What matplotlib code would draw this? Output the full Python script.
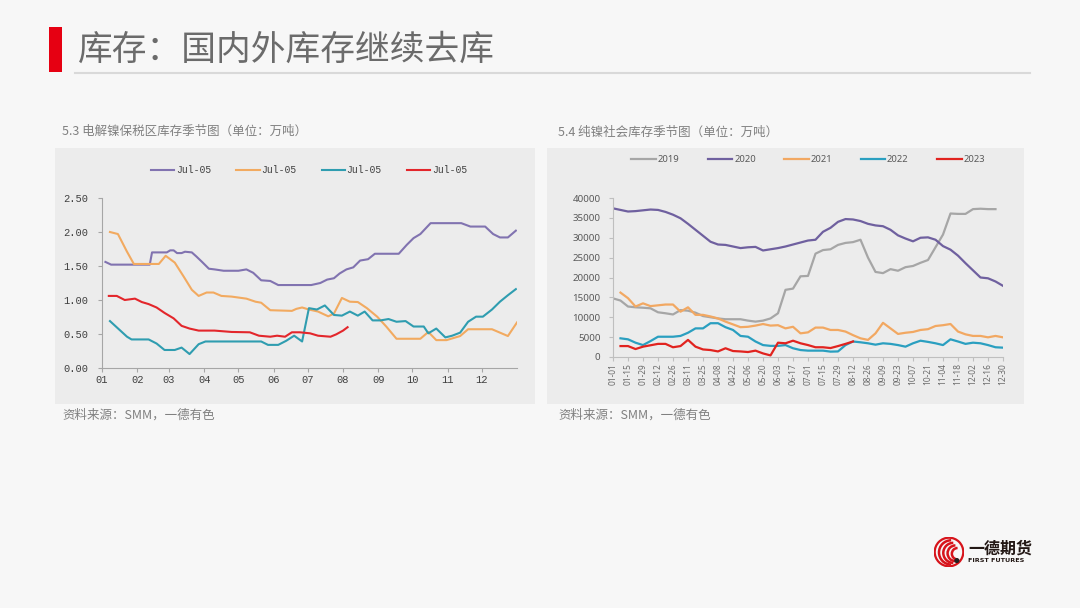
import numpy as np
import matplotlib
matplotlib.use('Agg')
import matplotlib.pyplot as plt
from matplotlib.patches import Rectangle, Circle, Arc
from matplotlib.lines import Line2D

plt.rcParams['font.family'] = ['Noto Sans CJK SC', 'DejaVu Sans']

# ---------------- data: left chart (day of year, 万吨) ----------------
left_month_days = [0, 31, 59, 90, 120, 151, 181, 212, 243, 273, 304, 334]
left_month_labels = ['01', '02', '03', '04', '05', '06', '07', '08', '09', '10', '11', '12']
left_legend = ['Jul-05', 'Jul-05', 'Jul-05', 'Jul-05']

purple_d = [3, 8, 42, 44, 57, 60, 63, 66, 70, 73, 79, 83, 88, 94, 99, 107, 120, 127, 133, 140,
            148, 155, 184, 192, 198, 204, 209, 215, 221, 227, 234, 240, 261, 268, 274, 280, 289, 316, 324, 337,
            344, 350, 357, 364]
purple_v = [1.56, 1.52, 1.52, 1.70, 1.70, 1.73, 1.73, 1.69, 1.69, 1.71, 1.70, 1.64, 1.56, 1.46, 1.45, 1.43, 1.43, 1.45, 1.40, 1.29,
            1.28, 1.22, 1.22, 1.25, 1.30, 1.32, 1.39, 1.45, 1.48, 1.58, 1.60, 1.68, 1.68, 1.81, 1.91, 1.97, 2.13, 2.13, 2.08, 2.08,
            1.97, 1.92, 1.92, 2.02]

orange_d = [7, 14, 22, 28, 50, 56, 64, 72, 79, 85, 92, 98, 105, 114, 127, 135, 140, 148, 167, 171,
            176, 182, 190, 199, 204, 211, 218, 225, 233, 242, 250, 259, 280, 287, 294, 303, 315, 322, 343, 357, 365]
orange_v = [2.00, 1.97, 1.71, 1.53, 1.53, 1.65, 1.55, 1.34, 1.15, 1.06, 1.11, 1.11, 1.06, 1.05, 1.02, 0.975, 0.96, 0.85, 0.84, 0.87,
            0.89, 0.86, 0.83, 0.76, 0.80, 1.03, 0.975, 0.97, 0.88, 0.755, 0.61, 0.43, 0.43, 0.53, 0.41, 0.41, 0.47, 0.57, 0.57, 0.47, 0.67]

teal_d = [7, 22, 26, 41, 48, 55, 64, 70, 77, 85, 91, 140, 146, 155, 162, 169, 176, 182, 189, 196,
          204, 211, 218, 225, 231, 238, 245, 252, 259, 267, 274, 283, 287, 294, 302, 308, 315, 322, 329, 335,
          343, 350, 357, 364]
teal_v = [0.69, 0.46, 0.42, 0.42, 0.36, 0.265, 0.265, 0.30, 0.205, 0.35, 0.39, 0.39, 0.34, 0.34, 0.40, 0.475, 0.39, 0.88, 0.86, 0.92,
          0.78, 0.77, 0.83, 0.77, 0.83, 0.70, 0.70, 0.72, 0.68, 0.69, 0.61, 0.61, 0.51, 0.58, 0.45, 0.475, 0.52, 0.68, 0.755, 0.755,
          0.86, 0.975, 1.07, 1.16]

red_d = [6, 13, 20, 29, 35, 41, 48, 55, 63, 70, 77, 85, 99, 114, 130, 138, 148, 154, 161, 167,
         174, 183, 190, 201, 206, 212, 216]
red_v = [1.06, 1.06, 1.00, 1.02, 0.97, 0.94, 0.89, 0.81, 0.73, 0.62, 0.58, 0.55, 0.55, 0.53, 0.525, 0.475, 0.46, 0.475, 0.46, 0.525,
         0.525, 0.51, 0.475, 0.46, 0.495, 0.55, 0.60]

# ---------------- data: right chart (weekly, 吨) ----------------
weeks = ['01-01', '01-08', '01-15', '01-22', '01-29', '02-05', '02-12', '02-19', '02-26', '03-04',
         '03-11', '03-18', '03-25', '04-01', '04-08', '04-15', '04-22', '04-29', '05-06', '05-13',
         '05-20', '05-27', '06-03', '06-10', '06-17', '06-24', '07-01', '07-08', '07-15', '07-22',
         '07-29', '08-05', '08-12', '08-19', '08-26', '09-02', '09-09', '09-16', '09-23', '09-30',
         '10-07', '10-14', '10-21', '10-28', '11-04', '11-11', '11-18', '11-25', '12-02', '12-09',
         '12-16', '12-23', '12-30']
nan = np.nan
y2019 = [14750, 14200, 12700, 12500, 12400, 12250, 11250, 11000, 10700, 11800,
         11650, 11150, 10300, 10000, 9700, 9500, 9500, 9500, 9150, 8900,
         9150, 9700, 11000, 16900, 17200, 20300, 20400, 26000, 26900, 27100,
         28200, 28700, 28900, 29500, 25000, 21400, 21100, 22100, 21700, 22600,
         22900, 23700, 24400, 27600, 30800, 36100, 36000, 36000, 37200, 37300,
         37200, 37200, nan]
y2020 = [37400, 37000, 36600, 36700, 36900, 37100, 37000, 36500, 35800, 34900,
         33500, 32000, 30500, 29000, 28300, 28200, 27800, 27400, 27600, 27700,
         26800, 27100, 27400, 27800, 28300, 28800, 29300, 29500, 31500, 32500,
         34000, 34700, 34600, 34200, 33500, 33100, 32900, 32000, 30600, 29800,
         29100, 30000, 30100, 29500, 27900, 27000, 25500, 23600, 21800, 20000,
         19800, 19000, 17900]
y2021 = [nan, 16200, 14800, 12700, 13500, 12800, 13000, 13200, 13200, 11400,
         12500, 10600, 10600, 10200, 9700, 8900, 8200, 7500, 7600, 7900,
         8300, 7900, 8000, 7200, 7600, 5950, 6200, 7400, 7400, 6800,
         6800, 6400, 5500, 4700, 4300, 5950, 8600, 7200, 5800, 6100,
         6300, 6800, 7000, 7800, 8000, 8300, 6400, 5700, 5300, 5300,
         4950, 5300, 4950]
y2022 = [nan, 4700, 4450, 3600, 3000, 4000, 5100, 5100, 5100, 5300,
         6100, 7200, 7200, 8500, 8500, 7500, 6800, 5300, 5100, 3900,
         3000, 2800, 2800, 3000, 2200, 1750, 1600, 1600, 1600, 1350,
         1400, 3000, 3900, 3700, 3450, 3100, 3450, 3300, 3000, 2600,
         3450, 4100, 3800, 3450, 3000, 4450, 3900, 3300, 3600, 3450,
         3000, 2450, 2350]
y2023 = [nan, 2750, 2750, 2000, 2600, 2950, 3300, 3300, 2450, 2750,
         4300, 2600, 1900, 1750, 1400, 2200, 1500, 1400, 1250, 1600,
         900, 400, 3600, 3450, 4100, 3450, 3000, 2450, 2450, 2250,
         2750, 3300, 3900, nan, nan, nan, nan, nan, nan, nan,
         nan, nan, nan, nan, nan, nan, nan, nan, nan, nan,
         nan, nan, nan]
right_names = ['2019', '2020', '2021', '2022', '2023']
right_yticks = [0, 5000, 10000, 15000, 20000, 25000, 30000, 35000, 40000]

# ---------------- figure ----------------
W, H = 1080, 608
fig = plt.figure(figsize=(W / 100, H / 100), dpi=100)
fig.patch.set_facecolor('#f7f7f7')


def fx(px):
    return px / W


def fy(py):
    return 1 - py / H


# title
fig.add_artist(Rectangle((fx(49), fy(72)), fx(13), 45 / H, transform=fig.transFigure,
                         facecolor='#e60012', edgecolor='none'))
fig.text(fx(78), fy(50), '库存：国内外库存继续去库', fontsize=25, color='#6b6b6b',
         va='center', ha='left', fontweight='light')
fig.add_artist(Line2D([fx(75), fx(1030)], [fy(73), fy(73)], transform=fig.transFigure,
                      color='#d9d9d9', lw=1.5))

# subtitles
fig.text(fx(62), fy(131), '5.3 电解镍保税区库存季节图（单位：万吨）', fontsize=9, color='#808080',
         va='center', ha='left')
fig.text(fx(558), fy(132), '5.4 纯镍社会库存季节图（单位：万吨）', fontsize=9, color='#808080',
         va='center', ha='left')

# panels
fig.add_artist(Rectangle((fx(55), fy(404)), fx(480), (404 - 148) / H, transform=fig.transFigure,
                         facecolor='#ececec', edgecolor='none', zorder=0))
fig.add_artist(Rectangle((fx(547), fy(404)), fx(477), (404 - 148) / H, transform=fig.transFigure,
                         facecolor='#ececec', edgecolor='none', zorder=0))

# sources
fig.text(fx(62), fy(415), '资料来源：SMM，一德有色', fontsize=9, color='#808080', va='center', ha='left')
fig.text(fx(558), fy(415), '资料来源：SMM，一德有色', fontsize=9, color='#808080', va='center', ha='left')

# ---------------- left chart ----------------
axL = fig.add_axes([fx(102), fy(368), fx(415), 170 / H])
axL.set_facecolor('none')
mono = 'Liberation Mono'
left_colors = ['#8173b0', '#f2aa60', '#2f9db0', '#e3262b']
for d, v, c, lab in zip([purple_d, orange_d, teal_d, red_d], [purple_v, orange_v, teal_v, red_v],
                        left_colors, left_legend):
    axL.plot(d, v, color=c, lw=1.5, label=lab, solid_joinstyle='round')
axL.set_xlim(0, 365)
axL.set_ylim(0, 2.5)
axL.set_xticks(left_month_days)
axL.set_xticklabels(left_month_labels, family=mono, fontsize=7.5, color='#404040')
axL.set_yticks([0, 0.5, 1.0, 1.5, 2.0, 2.5])
axL.set_yticklabels(['%.2f' % t for t in [0, 0.5, 1.0, 1.5, 2.0, 2.5]], family=mono, fontsize=7.5,
                    color='#404040')
for s in ['top', 'right']:
    axL.spines[s].set_visible(False)
for s in ['left', 'bottom']:
    axL.spines[s].set_color('#a6a6a6')
    axL.spines[s].set_linewidth(0.8)
axL.tick_params(axis='y', direction='out', length=3, width=0.8, color='#a6a6a6', pad=7)
axL.tick_params(axis='x', direction='out', length=3, width=0.8, color='#a6a6a6', pad=2)
legL = axL.legend(loc='center', bbox_to_anchor=(fx(309), fy(170)), bbox_transform=fig.transFigure,
                  ncol=4, frameon=False, handlelength=2.4, handletextpad=0.15, columnspacing=2.6,
                  prop={'family': mono, 'size': 7})
for t in legL.get_texts():
    t.set_color('#404040')

# ---------------- right chart ----------------
axR = fig.add_axes([fx(613), fy(357), fx(390), 159 / H])
axR.set_facecolor('none')
right_colors = ['#a6a6a6', '#6f609f', '#f2a862', '#2a9fc0', '#e1231f']
xw = np.arange(len(weeks))
for vals, c, lab in zip([y2019, y2020, y2021, y2022, y2023], right_colors, right_names):
    axR.plot(xw, vals, color=c, lw=1.6, label=lab, solid_joinstyle='round')
axR.set_xlim(0, len(weeks) - 1)
axR.set_ylim(0, 40000)
axR.set_xticks(xw[::2])
axR.set_xticklabels(weeks[::2], rotation=90, fontsize=6, color='#6b6b6b', family='Noto Sans')
axR.set_yticks(right_yticks)
axR.set_yticklabels([str(t) for t in right_yticks], fontsize=7, color='#595959', family='Noto Sans')
for s in ['top', 'right']:
    axR.spines[s].set_visible(False)
for s in ['left', 'bottom']:
    axR.spines[s].set_color('#bfbfbf')
    axR.spines[s].set_linewidth(0.8)
axR.tick_params(axis='both', direction='out', length=3, width=0.8, color='#bfbfbf')
axR.tick_params(axis='y', pad=6)
axR.tick_params(axis='x', pad=1.5)
legR = axR.legend(loc='center', bbox_to_anchor=(fx(808), fy(160)), bbox_transform=fig.transFigure,
                  ncol=5, frameon=False, handlelength=2.6, handletextpad=0.2, columnspacing=3.0,
                  prop={'family': 'Noto Sans', 'size': 6.8})
for t in legR.get_texts():
    t.set_color('#595959')

# ---------------- logo ----------------
axLogo = fig.add_axes([fx(934), fy(567), fx(30), 30 / H])
axLogo.set_xlim(-1.05, 1.05)
axLogo.set_ylim(-1.05, 1.05)
axLogo.set_aspect('equal')
axLogo.axis('off')
axLogo.add_patch(Circle((0, 0), 1.0, facecolor='none', edgecolor='#d7141b', lw=1.6))
for r, off in [(0.85, 0.15), (0.7, 0.3), (0.55, 0.45), (0.4, 0.6)]:
    axLogo.add_patch(Arc((off, -off * 0.2), 2 * r, 2 * r, theta1=90, theta2=270,
                         color='#d7141b', lw=1.8))
axLogo.add_patch(Circle((0.55, -0.6), 0.18, facecolor='#222222', edgecolor='none'))
fig.text(fx(968), fy(549), '一德期货', fontsize=11.5, fontweight='bold', color='#231815',
         va='center', ha='left')
fig.text(fx(968), fy(561), 'FIRST FUTURES', fontsize=4.6, fontweight='bold', color='#231815',
         va='center', ha='left', family='DejaVu Sans')

fig.savefig('out.png', dpi=100, facecolor=fig.get_facecolor())
